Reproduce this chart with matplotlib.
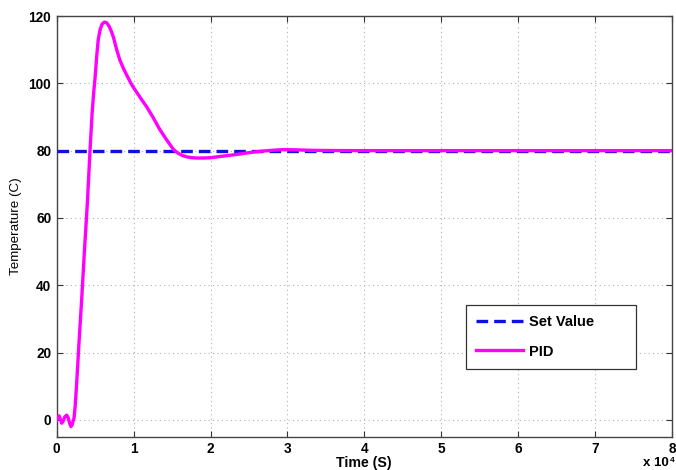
import matplotlib
matplotlib.use("Agg")
import matplotlib.pyplot as plt
import numpy as np

plt.rcParams['font.family'] = ['Liberation Sans', 'DejaVu Sans']

# Time in units of 1e4 s, temperature in C
time_pid = [0.0, 0.015, 0.03, 0.048, 0.065, 0.085, 0.105, 0.13, 0.15, 0.168, 0.186, 0.20, 0.212,
            0.225, 0.24, 0.26, 0.29, 0.325, 0.36, 0.40, 0.433, 0.46, 0.48, 0.50, 0.52, 0.54,
            0.565, 0.59, 0.62, 0.65, 0.68, 0.71, 0.74, 0.78, 0.82, 0.866, 0.92, 0.97, 1.0,
            1.05, 1.10, 1.17, 1.25, 1.34, 1.42, 1.52, 1.58, 1.64, 1.70, 1.76, 1.82, 1.90,
            2.0, 2.1, 2.21, 2.35, 2.5, 2.65, 2.8, 2.95, 3.1, 3.3, 3.6, 4.0, 5.0, 6.0, 7.0, 8.0]
temp_pid = [0.0, 1.0, 1.2, 0.2, -1.0, -0.3, 0.9, 1.4, 0.6, -1.0, -2.0, -1.5, -0.5,
            0.5, 4.0, 11.0, 23.0, 36.0, 50.0, 65.0, 80.0, 91.0, 97.0, 102.0, 108.0, 113.0,
            116.0, 117.6, 118.2, 118.0, 117.0, 115.5, 113.5, 110.0, 107.0, 104.5, 102.0, 99.8, 98.7,
            97.0, 95.3, 93.0, 90.0, 86.3, 83.5, 80.3, 79.2, 78.5, 78.1, 77.9, 77.8, 77.8,
            77.9, 78.2, 78.5, 78.9, 79.4, 79.8, 80.1, 80.3, 80.25, 80.1, 80.02, 80.0, 80.0, 80.0, 80.0, 80.0]
time_set = [0.0, 8.0]
temp_set = [80.0, 80.0]

x_ticks = [0, 1, 2, 3, 4, 5, 6, 7, 8]
y_ticks = [0, 20, 40, 60, 80, 100, 120]

fig = plt.figure(figsize=(6.76, 4.70), dpi=100)
ax = fig.add_axes([0.0839, 0.0709, 0.910, 0.895])

ax.plot(np.array(time_set) * 1e4, temp_set, color='#1010e0', linestyle='--', linewidth=2.4,
        dashes=(3.5, 1.8), label='Set Value', zorder=3)
ax.plot(np.array(time_pid) * 1e4, temp_pid, color='#ff00ff', linewidth=2.4, label='PID', zorder=4)

ax.set_xlim(0, 8e4)
ax.set_ylim(-5, 120)
ax.set_xticks([t * 1e4 for t in x_ticks])
ax.set_xticklabels([str(t) for t in x_ticks])
ax.set_yticks(y_ticks)
ax.set_yticklabels([str(t) for t in y_ticks])

for lbl in ax.get_xticklabels() + ax.get_yticklabels():
    lbl.set_fontweight('bold')
    lbl.set_fontsize(9.8)

ax.tick_params(direction='in', top=True, right=True, length=4, width=0.8, colors='#333333',
               labelcolor='black', pad=4)
ax.grid(True, linestyle=(0, (1, 3)), color='#b0b0b0', linewidth=0.8)
for s in ax.spines.values():
    s.set_color('#444444')
    s.set_linewidth(1.0)

ax.set_xlabel('Time (S)', fontsize=10.2, fontweight='bold', labelpad=0)
ax.set_ylabel('Temperature (C)', fontsize=9.6, labelpad=5)

fig.text(669 / 676, 1 / 470, 'x 10', ha='right', va='bottom', fontsize=9.5, fontweight='bold')
fig.text(669.5 / 676, 6 / 470, '4', ha='left', va='bottom', fontsize=6, fontweight='bold')

leg = ax.legend(loc='upper left', bbox_to_anchor=(0.665, 0.158, 0.276, 0.155), mode='expand',
                prop={'weight': 'bold', 'size': 10.5}, handlelength=3.2, labelspacing=1.05,
                borderpad=0.7, fancybox=False, framealpha=1, edgecolor='#333333',
                borderaxespad=0, handletextpad=0.45)
leg.get_frame().set_linewidth(0.9)

fig.savefig('out.png', dpi=100)
